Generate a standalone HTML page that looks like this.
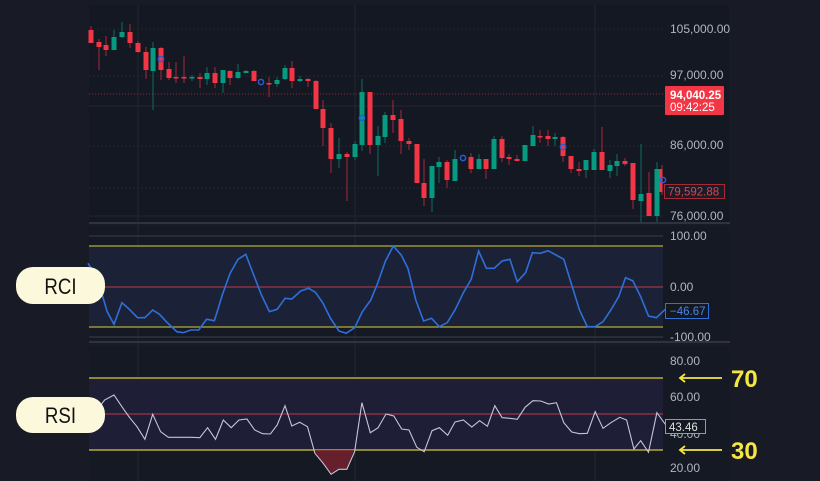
<!DOCTYPE html>
<html><head><meta charset="utf-8"><style>
html,body{margin:0;padding:0;background:#171a24;}
svg{display:block;font-family:"Liberation Sans",sans-serif;}
</style></head><body>
<svg id="s" width="820" height="481" xmlns="http://www.w3.org/2000/svg">
<rect width="820" height="481" fill="#181b25"/>
<rect x="89" y="5" width="640" height="217" fill="#141822"/>
<rect x="89" y="226" width="640" height="114" fill="#151923"/>
<rect x="89" y="346" width="640" height="135" fill="#151923"/>
<!-- grid -->
<g stroke="#22262f" stroke-width="1">
<line x1="89" y1="29" x2="663" y2="29" stroke-dasharray="2,2"/>
<line x1="89" y1="76" x2="663" y2="76" stroke-dasharray="2,2"/>
<line x1="89" y1="106" x2="663" y2="106"/>
<line x1="89" y1="146" x2="663" y2="146" stroke-dasharray="2,2"/>
<line x1="89" y1="188" x2="663" y2="188" stroke-dasharray="2,2"/>
<line x1="89" y1="216" x2="663" y2="216"/>
<line x1="138" y1="5" x2="138" y2="481"/>
<line x1="355" y1="5" x2="355" y2="481"/>
<line x1="595" y1="5" x2="595" y2="481"/>
</g>
<line x1="89" y1="223" x2="730" y2="223" stroke="#2f3340" stroke-width="2"/>
<line x1="89" y1="342" x2="730" y2="342" stroke="#2f3340" stroke-width="2"/>
<line x1="89" y1="94" x2="663" y2="94" stroke="#8a2a35" stroke-dasharray="1,2"/>
<g id="candles"></g>
<!-- price axis -->
<g fill="#b2b5be" font-size="12">
<text x="670" y="33">105,000.00</text>
<text x="670" y="79">97,000.00</text>
<text x="670" y="149">86,000.00</text>
<text x="670" y="220">76,000.00</text>
</g>
<rect x="665" y="86" width="59" height="29" fill="#f23645" rx="1"/>
<text x="670" y="99" fill="#fff" font-size="11.5" font-weight="bold">94,040.25</text>
<text x="670" y="111" fill="#fff" font-size="11.5">09:42:25</text>
<rect x="664.5" y="184.5" width="60" height="14" fill="#1a1d27" stroke="#a52a34"/>
<text x="668" y="195.5" fill="#e04050" font-size="11.5">79,592.88</text>
<!-- RCI pane -->
<rect x="89" y="246" width="574" height="81" fill="#1b2137"/>
<line x1="89" y1="236" x2="663" y2="236" stroke="#3a3e4a"/>
<line x1="89" y1="337" x2="663" y2="337" stroke="#3a3e4a"/>
<line x1="89" y1="246" x2="663" y2="246" stroke="#b5ad35" stroke-width="1.2"/>
<line x1="89" y1="327" x2="663" y2="327" stroke="#b5ad35" stroke-width="1.2"/>
<line x1="89" y1="287" x2="663" y2="287" stroke="#c0394a"/>
<polyline id="rci" fill="none" stroke="#2f6fd8" stroke-width="1.6"/>
<g fill="#b2b5be" font-size="12">
<text x="670" y="240">100.00</text>
<text x="670" y="291">0.00</text>
<text x="670" y="341">-100.00</text>
</g>
<rect x="665.5" y="303.5" width="43" height="15" fill="#141822" stroke="#2f6fd8"/>
<text x="670" y="315" fill="#4a86e8" font-size="11.5">−46.67</text>
<!-- RSI pane -->
<rect x="89" y="378" width="574" height="72" fill="#1e1e36"/>
<line x1="89" y1="378" x2="663" y2="378" stroke="#b5ad35" stroke-width="1.4"/>
<line x1="89" y1="450" x2="663" y2="450" stroke="#b5ad35" stroke-width="1.4"/>
<line x1="89" y1="414" x2="663" y2="414" stroke="#c0394a"/>
<polygon points="314,450 322,463 332,474 339,469 347,469 354,450" fill="#7a2030" opacity="0.8"/>
<polyline id="rsi" fill="none" stroke="#c8c4d8" stroke-width="1.1"/>
<g fill="#b2b5be" font-size="12">
<text x="670" y="365">80.00</text>
<text x="670" y="401">60.00</text>
<text x="670" y="438">40.00</text>
<text x="670" y="472">20.00</text>
</g>
<rect x="665.5" y="419.5" width="40" height="14" fill="#141822" stroke="#9598a1"/>
<text x="669" y="431" fill="#e0e0e0" font-size="11.5">43.46</text>
<!-- arrows -->
<g stroke="#f5e642" stroke-width="1.8" fill="none">
<line x1="680" y1="378" x2="722" y2="378"/><polyline points="685,374 680,378 685,382"/>
<line x1="680" y1="450" x2="722" y2="450"/><polyline points="685,446 680,450 685,454"/>
</g>
<text x="731" y="387" fill="#f5e642" font-size="24" font-weight="bold">70</text>
<text x="731" y="459" fill="#f5e642" font-size="24" font-weight="bold">30</text>
<!-- pills -->
<rect x="16" y="267" width="89" height="37" rx="17" fill="#fbf8dc"/>
<text x="60.5" y="294" text-anchor="middle" font-size="22" fill="#111" transform="translate(60.5,0) scale(0.85,1) translate(-60.5,0)">RCI</text>
<rect x="16" y="397" width="89" height="36" rx="17" fill="#fbf8dc"/>
<text x="60.5" y="423" text-anchor="middle" font-size="22" fill="#111" transform="translate(60.5,0) scale(0.85,1) translate(-60.5,0)">RSI</text>
</svg>
<script>
var C=[[91,30,43,26,43,0],[99,42,47,39,70,0],[106,45,50,36,56,0],[114,37,50,30,50,1],[122,32,37,22,38,1],[130,32,43,24,48,0],[138,43,52,41,53,0],[146,52,70,47,79,0],[153,48,71,42,110,1],[161,48,70,47,80,0],[169,69,78,62,80,0],[176,77,78,62,83,0],[184,77,78,56,83,0],[192,77,78,75,81,1],[200,77,79,73,88,0],[207,73,79,67,85,1],[215,73,83,67,88,0],[223,70,83,70,93,1],[230,71,78,70,85,0],[238,72,78,64,79,1],[246,71,73,70,73,1],[254,71,81,70,81,0],[269,83,84,77,97,0],[277,80,84,77,87,1],[285,68,79,65,80,1],[292,68,81,61,88,0],[300,79,81,76,82,1],[308,79,81,78,87,0],[316,81,109,80,109,0],[323,109,128,100,146,0],[331,128,159,123,173,0],[339,154,159,138,168,1],[347,154,157,152,201,0],[355,144,157,141,160,1],[362,92,145,79,151,1],[370,92,145,92,154,0],[378,136,145,126,176,1],[385,115,137,112,143,1],[393,115,120,100,133,0],[401,119,141,110,154,0],[409,141,144,138,150,0],[417,144,183,144,183,0],[424,183,198,159,206,0],[432,166,198,166,212,1],[439,162,167,157,183,1],[447,162,180,160,188,0],[455,159,181,150,181,1],[471,157,169,153,173,0],[479,159,169,154,169,1],[486,159,169,159,179,0],[494,139,169,136,169,1],[502,139,158,136,162,0],[509,157,159,154,165,0],[517,159,161,155,161,0],[525,145,161,145,161,1],[533,135,146,126,146,1],[540,136,137,130,143,0],[548,136,139,130,146,0],[555,137,139,133,146,1],[563,137,156,136,162,0],[571,156,169,156,173,0],[579,169,171,162,176,0],[586,160,170,160,178,1],[594,152,170,149,170,1],[602,152,170,127,170,0],[610,165,171,160,178,1],[617,161,166,154,176,1],[625,161,164,158,166,0],[633,163,200,163,209,0],[641,194,201,144,222,1],[649,193,216,172,216,0],[657,169,216,162,222,1],[662,169,192,165,195,0]];
var h='';C.forEach(function(c){var col=c[5]?'#089981':'#f23645';var wc=c[5]?'#0b6e5e':'#a8283a';
h+='<line x1="'+c[0]+'" y1="'+c[3]+'" x2="'+c[0]+'" y2="'+c[4]+'" stroke="'+wc+'" stroke-width="1"/>';
var w=c[0]==662?3:5;h+='<rect x="'+(c[0]-2.5)+'" y="'+c[1]+'" width="'+w+'" height="'+Math.max(1.5,c[2]-c[1])+'" fill="'+col+'"/>';});
[[161,59],[261,82],[362,118],[463,158],[563,147],[663,180]].forEach(function(p){h+='<circle cx="'+p[0]+'" cy="'+p[1]+'" r="2.6" fill="none" stroke="#2a5bd7" stroke-width="1.5"/>';});
document.getElementById('candles').innerHTML=h;
var R=[[168,100],[185,140],[205,245],[218,283],[233,218],[246,236],[263,263],[277,263],[292,240],[305,253],[318,275],[338,305],[350,308],[365,300],[380,300],[395,268],[410,272],[425,195],[440,130],[455,88],[470,73],[485,135],[500,195],[515,245],[530,238],[545,205],[558,207],[575,183],[590,175],[603,187],[617,218],[632,265],[648,303],[662,310],[678,293],[693,245],[709,210],[722,160],[737,93],[752,48],[767,75],[780,115],[795,210],[810,273],[825,265],[840,290],[855,278],[870,240],[887,185],[901,148],[915,63],[930,115],[945,115],[960,93],[975,88],[989,155],[1005,128],[1018,68],[1033,70],[1048,62],[1063,75],[1078,88],[1093,165],[1108,240],[1123,290],[1138,290],[1153,275],[1168,240],[1183,200],[1196,143],[1210,152],[1225,200],[1240,258],[1255,263],[1272,238]];
var S=[[168,555],[185,540],[200,510],[218,495],[233,530],[248,563],[262,590],[277,628],[292,553],[307,605],[322,622],[337,622],[352,622],[367,622],[382,623],[397,593],[412,628],[427,570],[442,593],[457,570],[472,567],[487,600],[502,611],[517,612],[530,585],[545,527],[558,588],[573,577],[588,590],[602,670],[618,700],[633,733],[648,718],[663,718],[678,665],[692,518],[708,608],[723,593],[738,552],[753,558],[768,597],[782,600],[797,652],[811,665],[826,602],[840,593],[856,616],[870,576],[886,570],[902,591],[917,572],[932,589],[946,527],[960,563],[975,565],[989,568],[1004,532],[1019,512],[1034,513],[1049,522],[1064,518],[1078,578],[1093,606],[1108,611],[1123,610],[1138,545],[1153,595],[1168,578],[1185,562],[1198,570],[1212,657],[1225,632],[1240,667],[1256,548],[1272,583]];
function pts(a){return a.map(function(p){return (p[0]/1.912).toFixed(1)+','+(230+p[1]/3).toFixed(1)}).join(' ');}
document.getElementById('rci').setAttribute('points',pts(R));
document.getElementById('rsi').setAttribute('points',pts(S));
</script>
</body></html>
